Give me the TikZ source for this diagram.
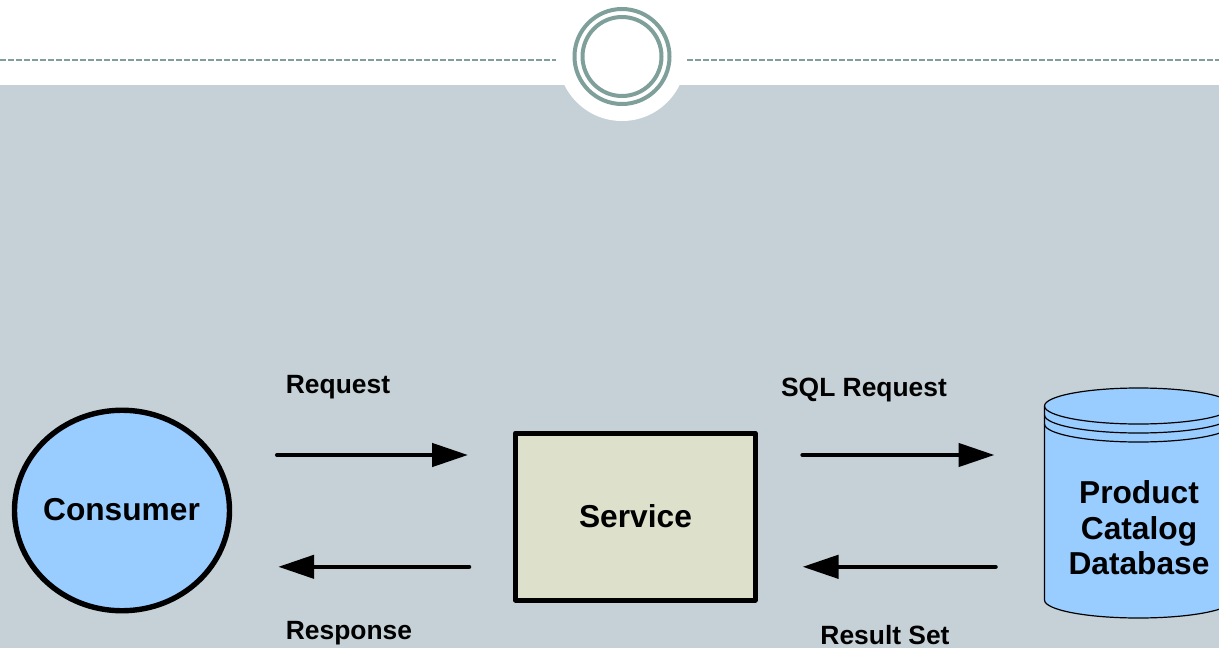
\documentclass[tikz,border=0pt]{standalone}
\usepackage{fontspec}
\setmainfont{Liberation Sans}
\usetikzlibrary{arrows.meta,shapes.geometric}
\definecolor{panel}{HTML}{C5D1D7}
\definecolor{ringc}{HTML}{7F9F9B}
\definecolor{blueF}{HTML}{99CCFF}
\definecolor{svc}{HTML}{DDE0CB}
\tikzset{
  flow/.style={line width=4.5pt,line cap=round,-{Triangle[length=36pt,width=23pt]}},
  lbl/.style={font=\bfseries\fontsize{26.4}{30}\selectfont,inner sep=0pt,anchor=center},
  big/.style={font=\bfseries\fontsize{31.7}{35.5}\selectfont,inner sep=0pt,align=center,anchor=center},
  rule/.style={ringc,line width=1.7pt,dash pattern=on 5.5pt off 2.5pt},
  ringline/.style={draw=ringc,line width=4pt,fill=none,circle,inner sep=0pt},
  cyl/.style={draw=black,line width=1.2pt}
}
\begin{document}
\begin{tikzpicture}[x=1pt,y=-1pt,every node/.append style={text=black}]
\useasboundingbox (0,0) rectangle (1219,648);
\clip (0,0) rectangle (1219,648);
\fill[white] (0,0) rectangle (1219,85);
\fill[panel] (0,85) rectangle (1219,648);
\fill[white] (622,57) circle[radius=64];
\coordinate (ruleLa) at (0,60);
\coordinate (ruleLb) at (556,60);
\coordinate (ruleRa) at (687,60);
\coordinate (ruleRb) at (1219,60);
\draw[rule] (ruleLa) -- (ruleLb);
\draw[rule] (ruleRa) -- (ruleRb);
\node[ringline,minimum size=95pt] (ringA) at (622,56.5) {};
\node[ringline,minimum size=79pt] (ringB) at (622,56.5) {};
% database
\fill[blueF] (1044.5,406) -- (1044.5,600) arc[start angle=180,end angle=0,x radius=94,y radius=18] -- (1232.5,406) arc[start angle=0,end angle=180,x radius=94,y radius=-18] -- cycle;
\draw[cyl] (1232.5,600) arc[start angle=0,end angle=180,x radius=94,y radius=18] -- (1044.5,406) arc[start angle=180,end angle=0,x radius=94,y radius=-18] -- (1232.5,600);
\draw[cyl] (1044.5,406) arc[start angle=180,end angle=0,x radius=94,y radius=18];
\draw[cyl] (1044.5,415) arc[start angle=180,end angle=0,x radius=94,y radius=18];
\draw[cyl] (1044.5,424) arc[start angle=180,end angle=0,x radius=94,y radius=18];
\node[big] (db) at (1139,528) {Product\\Catalog\\Database};
\node[ellipse,draw=black,fill=blueF,line width=5.4pt,minimum width=215pt,minimum height=200.5pt,inner sep=0pt] (consumer) at (122,510.5) {};
\node[big] (consumerT) at (121.5,510) {Consumer};
\node[rectangle,draw=black,fill=svc,line width=5pt,line join=round,minimum width=239.5pt,minimum height=167pt,inner sep=0pt] (service) at (635.3,516.5) {};
\node[big] (serviceT) at (635.5,516) {Service};
\coordinate (dbW) at (1044.5,516.5);
\draw[flow,shorten <=45pt,shorten >=45pt] ([yshift=55.5pt]consumer.east) -- ([yshift=61.5pt]service.west);
\draw[flow,shorten <=44pt,shorten >=46pt] ([yshift=-50.3pt]service.west) -- ([yshift=-56.3pt]consumer.east);
\draw[flow,shorten <=45pt,shorten >=50pt] ([yshift=61.5pt]service.east) -- (dbW |- 0,455);
\draw[flow,shorten <=49pt,shorten >=45pt] (dbW |- 0,566.8) -- ([yshift=-50.3pt]service.east);
\node[lbl] (req) at (338,387.5) {Request};
\node[lbl] (resp) at (349,633.5) {Response};
\node[lbl] (sqlr) at (864,390.5) {SQL Request};
\node[lbl] (rs) at (885,635) {Result Set};
\end{tikzpicture}
\end{document}
